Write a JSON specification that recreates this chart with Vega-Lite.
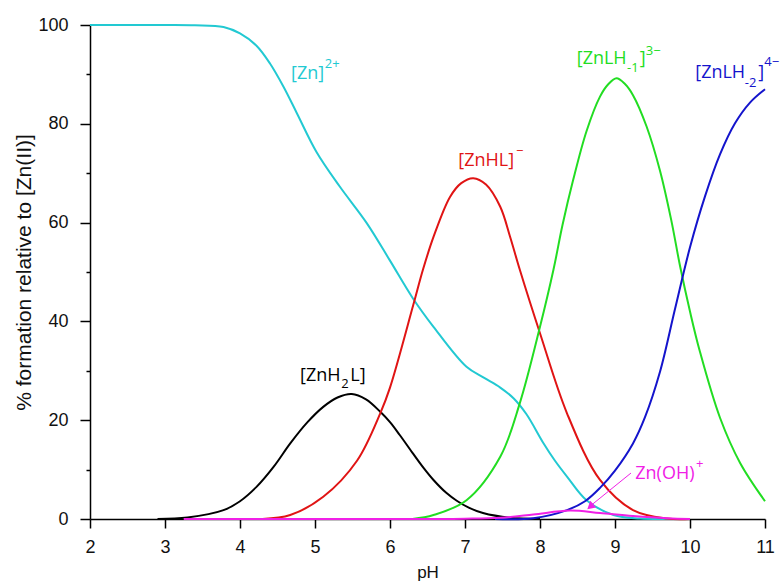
{
  "$schema": "https://vega.github.io/schema/vega-lite/v6.json",
  "width": 675,
  "height": 494,
  "autosize": {"type": "none"},
  "padding": {"left": 90, "top": 25, "right": 15, "bottom": 65},
  "background": "white",
  "config": {"view": {"stroke": null}},
  "datasets": {
    "curves": [
      {"species": "Zn", "pH": 2.0, "pct": 100},
      {"species": "Zn", "pH": 2.5, "pct": 100},
      {"species": "Zn", "pH": 3.0, "pct": 100},
      {"species": "Zn", "pH": 3.4, "pct": 99.95},
      {"species": "Zn", "pH": 3.78, "pct": 99.6},
      {"species": "Zn", "pH": 4.0, "pct": 98.3},
      {"species": "Zn", "pH": 4.22, "pct": 95.8},
      {"species": "Zn", "pH": 4.4, "pct": 92.2},
      {"species": "Zn", "pH": 4.58, "pct": 87.5},
      {"species": "Zn", "pH": 4.76, "pct": 82.1},
      {"species": "Zn", "pH": 5.02, "pct": 74.3},
      {"species": "Zn", "pH": 5.33, "pct": 67.3},
      {"species": "Zn", "pH": 5.69, "pct": 59.9},
      {"species": "Zn", "pH": 6.0, "pct": 52.3},
      {"species": "Zn", "pH": 6.3, "pct": 44.8},
      {"species": "Zn", "pH": 6.58, "pct": 38.9},
      {"species": "Zn", "pH": 7.02, "pct": 30.8},
      {"species": "Zn", "pH": 7.25, "pct": 28.6},
      {"species": "Zn", "pH": 7.47, "pct": 26.6},
      {"species": "Zn", "pH": 7.65, "pct": 24.4},
      {"species": "Zn", "pH": 7.82, "pct": 21.2},
      {"species": "Zn", "pH": 8.04, "pct": 15.5},
      {"species": "Zn", "pH": 8.2, "pct": 11.8},
      {"species": "Zn", "pH": 8.36, "pct": 8.6},
      {"species": "Zn", "pH": 8.62, "pct": 3.8},
      {"species": "Zn", "pH": 8.98, "pct": 0.8},
      {"species": "Zn", "pH": 9.33, "pct": 0.1},
      {"species": "Zn", "pH": 9.7, "pct": 0},
      {"species": "Zn", "pH": 10.0, "pct": 0},

      {"species": "ZnH2L", "pH": 2.9, "pct": 0},
      {"species": "ZnH2L", "pH": 3.3, "pct": 0.3},
      {"species": "ZnH2L", "pH": 3.78, "pct": 1.8},
      {"species": "ZnH2L", "pH": 4.0, "pct": 3.6},
      {"species": "ZnH2L", "pH": 4.22, "pct": 6.5},
      {"species": "ZnH2L", "pH": 4.45, "pct": 10.6},
      {"species": "ZnH2L", "pH": 4.67, "pct": 15.3},
      {"species": "ZnH2L", "pH": 4.9, "pct": 19.6},
      {"species": "ZnH2L", "pH": 5.11, "pct": 22.7},
      {"species": "ZnH2L", "pH": 5.3, "pct": 24.6},
      {"species": "ZnH2L", "pH": 5.49, "pct": 25.3},
      {"species": "ZnH2L", "pH": 5.68, "pct": 24.2},
      {"species": "ZnH2L", "pH": 5.87, "pct": 21.7},
      {"species": "ZnH2L", "pH": 6.0, "pct": 19.6},
      {"species": "ZnH2L", "pH": 6.13, "pct": 17.0},
      {"species": "ZnH2L", "pH": 6.3, "pct": 13.4},
      {"species": "ZnH2L", "pH": 6.45, "pct": 10.3},
      {"species": "ZnH2L", "pH": 6.58, "pct": 7.9},
      {"species": "ZnH2L", "pH": 6.75, "pct": 5.3},
      {"species": "ZnH2L", "pH": 6.89, "pct": 3.7},
      {"species": "ZnH2L", "pH": 7.05, "pct": 2.3},
      {"species": "ZnH2L", "pH": 7.24, "pct": 1.2},
      {"species": "ZnH2L", "pH": 7.6, "pct": 0.25},
      {"species": "ZnH2L", "pH": 8.0, "pct": 0},

      {"species": "ZnHL", "pH": 4.3, "pct": 0},
      {"species": "ZnHL", "pH": 4.67, "pct": 0.8},
      {"species": "ZnHL", "pH": 5.11, "pct": 4.5},
      {"species": "ZnHL", "pH": 5.56, "pct": 11.8},
      {"species": "ZnHL", "pH": 5.87, "pct": 21.4},
      {"species": "ZnHL", "pH": 6.0, "pct": 26.6},
      {"species": "ZnHL", "pH": 6.31, "pct": 43.3},
      {"species": "ZnHL", "pH": 6.44, "pct": 50.5},
      {"species": "ZnHL", "pH": 6.58, "pct": 57.1},
      {"species": "ZnHL", "pH": 6.8, "pct": 65.2},
      {"species": "ZnHL", "pH": 6.95, "pct": 68.0},
      {"species": "ZnHL", "pH": 7.11, "pct": 69.0},
      {"species": "ZnHL", "pH": 7.28, "pct": 67.7},
      {"species": "ZnHL", "pH": 7.47, "pct": 63.2},
      {"species": "ZnHL", "pH": 7.6, "pct": 57.2},
      {"species": "ZnHL", "pH": 7.73, "pct": 50.5},
      {"species": "ZnHL", "pH": 8.0, "pct": 37.6},
      {"species": "ZnHL", "pH": 8.36, "pct": 21.4},
      {"species": "ZnHL", "pH": 8.8, "pct": 7.9},
      {"species": "ZnHL", "pH": 9.24, "pct": 1.8},
      {"species": "ZnHL", "pH": 9.69, "pct": 0.1},
      {"species": "ZnHL", "pH": 10.0, "pct": 0},

      {"species": "ZnLH-1", "pH": 6.3, "pct": 0},
      {"species": "ZnLH-1", "pH": 6.58, "pct": 0.8},
      {"species": "ZnLH-1", "pH": 7.02, "pct": 3.8},
      {"species": "ZnLH-1", "pH": 7.47, "pct": 12.6},
      {"species": "ZnLH-1", "pH": 7.73, "pct": 23.4},
      {"species": "ZnLH-1", "pH": 8.0, "pct": 38.9},
      {"species": "ZnLH-1", "pH": 8.18, "pct": 50.5},
      {"species": "ZnLH-1", "pH": 8.3, "pct": 59.5},
      {"species": "ZnLH-1", "pH": 8.44, "pct": 68.5},
      {"species": "ZnLH-1", "pH": 8.62, "pct": 78.5},
      {"species": "ZnLH-1", "pH": 8.8, "pct": 85.5},
      {"species": "ZnLH-1", "pH": 8.91, "pct": 88.0},
      {"species": "ZnLH-1", "pH": 9.02, "pct": 89.2},
      {"species": "ZnLH-1", "pH": 9.13, "pct": 88.1},
      {"species": "ZnLH-1", "pH": 9.24, "pct": 85.8},
      {"species": "ZnLH-1", "pH": 9.42, "pct": 79.5},
      {"species": "ZnLH-1", "pH": 9.6, "pct": 70.5},
      {"species": "ZnLH-1", "pH": 9.75, "pct": 60.5},
      {"species": "ZnLH-1", "pH": 9.87, "pct": 51.0},
      {"species": "ZnLH-1", "pH": 10.0, "pct": 42.0},
      {"species": "ZnLH-1", "pH": 10.13, "pct": 34.0},
      {"species": "ZnLH-1", "pH": 10.4, "pct": 20.5},
      {"species": "ZnLH-1", "pH": 10.67, "pct": 11.3},
      {"species": "ZnLH-1", "pH": 11.0, "pct": 3.6},

      {"species": "ZnLH-2", "pH": 7.4, "pct": 0},
      {"species": "ZnLH-2", "pH": 7.91, "pct": 0.15},
      {"species": "ZnLH-2", "pH": 8.36, "pct": 1.8},
      {"species": "ZnLH-2", "pH": 8.6, "pct": 3.6},
      {"species": "ZnLH-2", "pH": 8.8, "pct": 6.3},
      {"species": "ZnLH-2", "pH": 9.0, "pct": 9.8},
      {"species": "ZnLH-2", "pH": 9.24, "pct": 15.3},
      {"species": "ZnLH-2", "pH": 9.4, "pct": 20.6},
      {"species": "ZnLH-2", "pH": 9.6, "pct": 29.8},
      {"species": "ZnLH-2", "pH": 9.8, "pct": 42.5},
      {"species": "ZnLH-2", "pH": 10.0, "pct": 55.0},
      {"species": "ZnLH-2", "pH": 10.2, "pct": 65.3},
      {"species": "ZnLH-2", "pH": 10.4, "pct": 73.8},
      {"species": "ZnLH-2", "pH": 10.6, "pct": 80.1},
      {"species": "ZnLH-2", "pH": 10.8, "pct": 84.3},
      {"species": "ZnLH-2", "pH": 11.0, "pct": 87.0},

      {"species": "ZnOH", "pH": 3.25, "pct": 0},
      {"species": "ZnOH", "pH": 5.0, "pct": 0},
      {"species": "ZnOH", "pH": 6.5, "pct": 0.01},
      {"species": "ZnOH", "pH": 7.0, "pct": 0.06},
      {"species": "ZnOH", "pH": 7.47, "pct": 0.25},
      {"species": "ZnOH", "pH": 7.91, "pct": 0.9},
      {"species": "ZnOH", "pH": 8.4, "pct": 1.7},
      {"species": "ZnOH", "pH": 8.8, "pct": 1.2},
      {"species": "ZnOH", "pH": 9.24, "pct": 0.6},
      {"species": "ZnOH", "pH": 9.7, "pct": 0.15},
      {"species": "ZnOH", "pH": 10.0, "pct": 0}
    ],
    "mainLabels": [
      {"species": "Zn", "text": "[Zn]", "pH": 4.68, "pct": 89.1},
      {"species": "ZnH2L", "text": "[ZnH", "pH": 4.8, "pct": 27.9},
      {"species": "ZnH2L", "text": "L]", "pH": 5.47, "pct": 27.9},
      {"species": "ZnHL", "text": "[ZnHL]", "pH": 6.91, "pct": 71.5},
      {"species": "ZnLH-1", "text": "[ZnLH", "pH": 8.49, "pct": 92.1},
      {"species": "ZnLH-1", "text": "]", "pH": 9.33, "pct": 92.1},
      {"species": "ZnLH-2", "text": "[ZnLH", "pH": 10.07, "pct": 89.3},
      {"species": "ZnLH-2", "text": "]", "pH": 10.91, "pct": 89.3},
      {"species": "ZnOH", "text": "Zn(OH)", "pH": 9.27, "pct": 8.1}
    ],
    "smallLabels": [
      {"species": "Zn", "text": "2+", "pH": 5.13, "pct": 91.3},
      {"species": "ZnH2L", "text": "2", "pH": 5.35, "pct": 26.5},
      {"species": "ZnHL", "text": "−", "pH": 7.68, "pct": 73.7},
      {"species": "ZnLH-1", "text": "-1", "pH": 9.16, "pct": 90.5},
      {"species": "ZnLH-1", "text": "3−", "pH": 9.41, "pct": 93.9},
      {"species": "ZnLH-2", "text": "-2", "pH": 10.73, "pct": 87.4},
      {"species": "ZnLH-2", "text": "4−", "pH": 10.99, "pct": 91.7},
      {"species": "ZnOH", "text": "+", "pH": 10.08, "pct": 10.3}
    ],
    "arrow": [
      {"species": "ZnOH", "pH": 9.213, "pct": 9.3, "pH2": 8.66, "pct2": 2.5}
    ],
    "arrowHead": [
      {"species": "ZnOH", "pH": 8.67, "pct": 2.5}
    ]
  },
  "layer": [
    {
      "data": {"name": "curves"},
      "mark": {"type": "line", "strokeWidth": 2, "interpolate": "catmull-rom"},
      "encoding": {
        "x": {
          "field": "pH", "type": "quantitative",
          "scale": {"domain": [2, 11], "nice": false, "zero": false},
          "axis": {
            "title": "pH",
            "values": [2, 2.5, 3, 3.5, 4, 4.5, 5, 5.5, 6, 6.5, 7, 7.5, 8, 8.5, 9, 9.5, 10, 10.5, 11],
            "labelExpr": "datum.value % 1 === 0 ? format(datum.value, 'd') : ''",
            "grid": false,
            "domainColor": "#000", "domainWidth": 1.5,
            "tickColor": "#000", "tickWidth": 1.5,
            "tickSize": {"condition": {"test": "datum.value % 1 !== 0", "value": 4}, "value": 9},
            "labelFont": "Liberation Sans", "labelFontSize": 18, "labelColor": "#111",
            "labelPadding": 10, "labelOverlap": false, "labelFlush": false, "labelBound": false,
            "titleFont": "Liberation Sans", "titleFontSize": 17, "titleFontWeight": "normal", "titleColor": "#111",
            "titlePadding": 8
          }
        },
        "y": {
          "field": "pct", "type": "quantitative",
          "scale": {"domain": [0, 100], "nice": false},
          "axis": {
            "title": "% formation relative to [Zn(II)]",
            "values": [0, 10, 20, 30, 40, 50, 60, 70, 80, 90, 100],
            "labelExpr": "datum.value % 20 === 0 ? format(datum.value, 'd') : ''",
            "grid": false,
            "domainColor": "#000", "domainWidth": 1.5,
            "tickColor": "#000", "tickWidth": 1.5,
            "tickSize": {"condition": {"test": "datum.value % 20 !== 0", "value": 4}, "value": 10},
            "labelFont": "Liberation Sans", "labelFontSize": 18, "labelColor": "#111",
            "labelPadding": 12, "labelOverlap": false, "labelFlush": false, "labelBound": false,
            "titleFont": "Liberation Sans", "titleFontSize": 21, "titleFontWeight": "normal", "titleColor": "#111",
            "titlePadding": 3
          }
        },
        "color": {
          "field": "species", "type": "nominal",
          "scale": {
            "domain": ["Zn", "ZnH2L", "ZnHL", "ZnLH-1", "ZnLH-2", "ZnOH"],
            "range": ["#22C9D2", "#000000", "#E01414", "#22DD22", "#1414CC", "#F020E6"]
          },
          "legend": null
        },
        "order": {"field": "pH", "type": "quantitative"}
      }
    },
    {
      "data": {"name": "arrow"},
      "mark": {"type": "rule", "strokeWidth": 1},
      "encoding": {
        "x": {"field": "pH", "type": "quantitative"},
        "y": {"field": "pct", "type": "quantitative"},
        "x2": {"field": "pH2"},
        "y2": {"field": "pct2"},
        "color": {"field": "species", "type": "nominal", "legend": null}
      }
    },
    {
      "data": {"name": "arrowHead"},
      "mark": {"type": "point", "shape": "triangle-down", "filled": true, "size": 80, "angle": 50, "opacity": 1},
      "encoding": {
        "x": {"field": "pH", "type": "quantitative"},
        "y": {"field": "pct", "type": "quantitative"},
        "color": {"field": "species", "type": "nominal", "legend": null}
      }
    },
    {
      "data": {"name": "mainLabels"},
      "mark": {"type": "text", "font": "Open Sans", "fontSize": 18, "align": "left", "baseline": "alphabetic"},
      "encoding": {
        "x": {"field": "pH", "type": "quantitative"},
        "y": {"field": "pct", "type": "quantitative"},
        "text": {"field": "text"},
        "color": {"field": "species", "type": "nominal", "legend": null}
      }
    },
    {
      "data": {"name": "smallLabels"},
      "mark": {"type": "text", "font": "Open Sans", "fontSize": 13, "align": "left", "baseline": "alphabetic"},
      "encoding": {
        "x": {"field": "pH", "type": "quantitative"},
        "y": {"field": "pct", "type": "quantitative"},
        "text": {"field": "text"},
        "color": {"field": "species", "type": "nominal", "legend": null}
      }
    }
  ]
}
